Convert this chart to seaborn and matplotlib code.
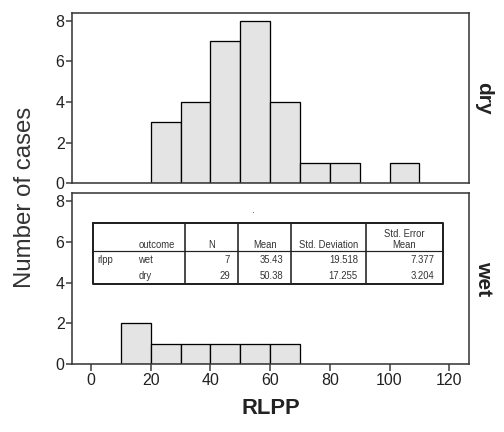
import matplotlib
matplotlib.use("Agg")
import matplotlib.pyplot as plt
import numpy as np
import seaborn as sns
import pandas as pd

# histogram counts per 10-unit bin (left edge of bin)
dry_bins = [20, 30, 40, 50, 60, 70, 80, 100]
dry_counts = [3, 4, 7, 8, 4, 1, 1, 1]
wet_bins = [10, 20, 30, 40, 50, 60]
wet_counts = [2, 1, 1, 1, 1, 1]
bin_width = 10

# summary table
tab_outcome = ["wet", "dry"]
tab_n = ["7", "29"]
tab_mean = ["35.43", "50.38"]
tab_sd = ["19.518", "17.255"]
tab_se = ["7.377", "3.204"]

sns.set_style("white")
plt.rcParams['font.family'] = ['Liberation Sans', 'DejaVu Sans']

df = pd.concat([
    pd.DataFrame({'rlpp': np.array(dry_bins) + bin_width / 2, 'n': dry_counts, 'outcome': 'dry'}),
    pd.DataFrame({'rlpp': np.array(wet_bins) + bin_width / 2, 'n': wet_counts, 'outcome': 'wet'}),
])

fig = plt.figure(figsize=(7, 6), dpi=72)
ax_top = fig.add_axes([0.142, 0.576, 0.789, 0.395])
ax_bot = fig.add_axes([0.142, 0.157, 0.789, 0.396])

spine_col = "#3a3a3a"
for ax, grp in [(ax_top, 'dry'), (ax_bot, 'wet')]:
    sub = df[df['outcome'] == grp]
    sns.histplot(data=sub, x='rlpp', weights='n', binwidth=bin_width, binrange=(10, 110), ax=ax,
                 color="#e4e4e4", edgecolor="black", linewidth=1.3, alpha=1)
    for p in ax.patches:
        if p.get_height() == 0:
            p.set_visible(False)
    ax.set_xlim(-6.5, 126.7)
    ax.set_ylim(0, 8.4)
    ax.set_yticks([0, 2, 4, 6, 8])
    ax.set_ylabel("")
    ax.set_xlabel("")
    for s in ax.spines.values():
        s.set_color(spine_col)
        s.set_linewidth(1.6)
        s.set_visible(True)
    ax.tick_params(axis='y', direction='out', length=6, width=1.5, color=spine_col,
                   labelsize=16, labelcolor="#222222", pad=1, left=True)
    ax.text(1.035, 0.5, grp, transform=ax.transAxes, rotation=-90, ha='center', va='center',
            fontsize=21, fontweight='bold', color="#222222")

ax_top.tick_params(axis='x', bottom=False, labelbottom=False)
ax_bot.set_xticks([0, 20, 40, 60, 80, 100, 120])
ax_bot.tick_params(axis='x', direction='out', length=7, width=1.5, color=spine_col,
                   labelsize=16, labelcolor="#222222", pad=2, bottom=True)
ax_bot.set_xlabel("RLPP", fontsize=22, fontweight='bold', color="#222222", labelpad=10)

fig.text(0.05, 0.542, "Number of cases", rotation=90, ha='center', va='center',
         fontsize=24, color="#333333")

# SPSS-style summary table drawn in its own axes (pixel units)
tax = fig.add_axes([0.184, 0.343, 0.694, 0.1415])
tax.set_xlim(0, 350)
tax.set_ylim(61.3, 0)
tax.axis('off')
cols = [0, 92.3, 145.6, 198.6, 273.3, 350]
tax.plot([0, 350, 350, 0, 0], [0, 0, 61.3, 61.3, 0], color="#222222", lw=2, clip_on=False)
for c in cols[1:-1]:
    tax.plot([c, c], [0, 61.3], color="#222222", lw=1.6, clip_on=False)
tax.plot([0, 350], [28.3, 28.3], color="#222222", lw=1.2, clip_on=False)
tc = "#333333"
fs = 9.5
tax.text(45.6, 25, "outcome", ha='left', va='baseline', fontsize=fs, color=tc)
tax.text((cols[1] + cols[2]) / 2, 25, "N", ha='center', va='baseline', fontsize=fs, color=tc)
tax.text((cols[2] + cols[3]) / 2, 25, "Mean", ha='center', va='baseline', fontsize=fs, color=tc)
tax.text((cols[3] + cols[4]) / 2, 25, "Std. Deviation", ha='center', va='baseline', fontsize=fs, color=tc)
tax.text((cols[4] + cols[5]) / 2, 25, "Std. Error\nMean", ha='center', va='baseline', fontsize=fs,
         color=tc, linespacing=1.1)
tax.text(5, 40.5, "rlpp", ha='left', va='baseline', fontsize=fs, color=tc)
for i, y in enumerate([40.5, 56.5]):
    tax.text(45.6, y, tab_outcome[i], ha='left', va='baseline', fontsize=fs, color=tc)
    for j, vals in enumerate([tab_n, tab_mean, tab_sd, tab_se]):
        tax.text(cols[j + 2] - 8, y, vals[i], ha='right', va='baseline', fontsize=fs, color=tc)
fig.text(0.501, 0.507, ".", ha='center', va='baseline', fontsize=10, color=tc)

fig.savefig("out.png", dpi=72)
